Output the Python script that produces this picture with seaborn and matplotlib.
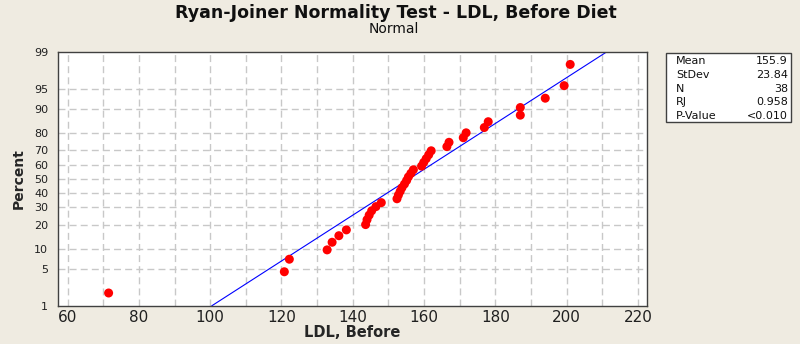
import matplotlib
matplotlib.use("Agg")
import matplotlib.pyplot as plt
import seaborn as sns
import pandas as pd
from statistics import NormalDist

# LDL before diet, sorted
ldl_before = [71.5, 120.8, 122.2, 132.8, 134.2, 136.1, 138.2,
              143.6, 144.0, 144.6, 145.3, 146.5, 148.0,
              152.4, 152.8, 153.3, 153.8, 154.5, 155.1, 155.6, 156.3, 157.0,
              159.3, 159.9, 160.6, 161.3, 162.0,
              166.4, 167.0, 171.0, 171.8, 176.9, 178.0, 187.0, 187.0,
              194.0, 199.3, 201.0]
mean_ldl = 155.9
sd_ldl = 23.84
stat_names = ["Mean", "StDev", "N", "RJ", "P-Value"]
stat_values = ["155.9", "23.84", "38", "0.958", "<0.010"]
pct_ticks = [1, 5, 10, 20, 30, 40, 50, 60, 70, 80, 90, 95, 99]
x_ticks = [60, 80, 100, 120, 140, 160, 180, 200, 220]

nd = NormalDist()
n = len(ldl_before)
# median ranks (Benard) -> normal scores
df = pd.DataFrame({"ldl": sorted(ldl_before)})
df["z"] = [nd.inv_cdf((i + 1 - 0.3) / (n + 0.4)) for i in range(n)]

z_lo, z_hi = nd.inv_cdf(0.01), nd.inv_cdf(0.99)
fit = pd.DataFrame({"z": [z_lo, z_hi]})
fit["ldl"] = mean_ldl + sd_ldl * fit["z"]

sns.set_style("white")
plt.rcParams['font.family'] = ['DejaVu Sans']
bg = "#EFEBE1"
fig = plt.figure(figsize=(8, 3.44), dpi=100, facecolor=bg)
ax = fig.add_axes([0.0725, 0.111, 0.7365, 0.739])
ax.set_facecolor("white")

for xv in range(60, 221, 10):
    ax.axvline(xv, color="#C8C8C8", lw=1, ls=(0, (5, 3)), zorder=0)
for p in pct_ticks[1:-1]:
    ax.axhline(nd.inv_cdf(p / 100), color="#C8C8C8", lw=1, ls=(0, (5, 3)), zorder=0)

sns.lineplot(data=fit, x="ldl", y="z", color="#0000FF", lw=0.8, ax=ax, zorder=2)
sns.scatterplot(data=df, x="ldl", y="z", color="#FF0000", s=42, edgecolor="none",
                ax=ax, zorder=3)

ax.set_xlim(57.3, 222.6)
ax.set_ylim(z_lo, z_hi)
ax.set_xticks(x_ticks)
ax.set_xticklabels([str(t) for t in x_ticks], fontsize=11)
ax.set_yticks([nd.inv_cdf(p / 100) for p in pct_ticks])
ax.set_yticklabels([str(p) for p in pct_ticks], fontsize=8)
ax.tick_params(axis="y", direction="out", length=5, width=0.8, color="#404040",
               labelcolor="#202020", pad=2)
ax.tick_params(axis="x", direction="out", length=3, width=0.8, color="#404040",
               labelcolor="#202020", pad=0)
for s in ax.spines.values():
    s.set_color("#404040")
    s.set_linewidth(1)

ax.set_xlabel("LDL, Before", fontsize=10.5, fontweight="bold", labelpad=0)
ax.set_ylabel("Percent", fontsize=10, fontweight="bold", labelpad=6)

fig.text(0.495, 0.962, "Ryan-Joiner Normality Test - LDL, Before Diet",
         ha="center", va="center", fontsize=12.5, fontweight="bold", color="#101010")
fig.text(0.492, 0.915, "Normal", ha="center", va="center", fontsize=10, color="#101010")

# stats box
box = plt.Rectangle((666 / 800, 1 - 122 / 344), 125 / 800, 69 / 344,
                    transform=fig.transFigure, facecolor="white",
                    edgecolor="#404040", lw=1)
fig.patches.append(box)
for k, (nm, vl) in enumerate(zip(stat_names, stat_values)):
    yy = 1 - (61 + 13.8 * k) / 344
    fig.text(676 / 800, yy, nm, ha="left", va="center", fontsize=8, color="#101010")
    fig.text(788 / 800, yy, vl, ha="right", va="center", fontsize=8, color="#101010")

fig.savefig("out.png", dpi=100, facecolor=bg)
